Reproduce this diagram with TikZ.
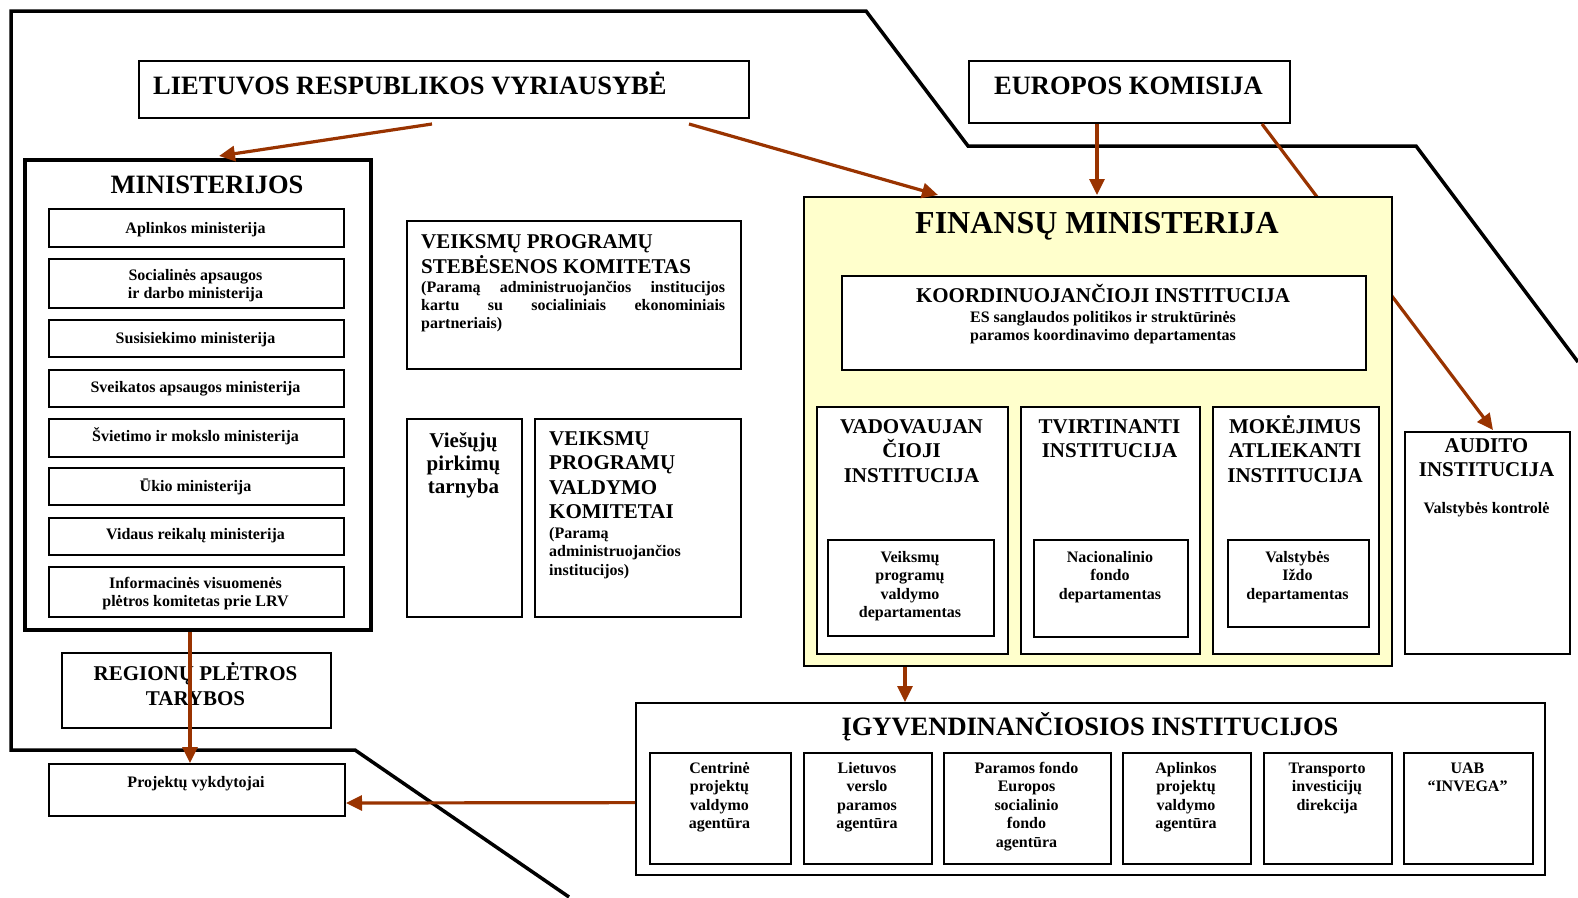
\documentclass[tikz,border=0pt]{standalone}
\usepackage{fontspec}
\setmainfont{Liberation Serif}
\usetikzlibrary{arrows.meta,calc}
\definecolor{arrc}{RGB}{153,51,0}
\definecolor{fmy}{RGB}{255,255,204}
\newcommand{\fs}[2]{\fontsize{#1}{#2}\selectfont\bfseries}
\newcommand{\bx}[6]{\pgfmathsetmacro\mybw{#4-#2}\pgfmathsetmacro\mybh{#5-#3}%
  \node[#6, anchor=north west, minimum width=\mybw pt, minimum height=\mybh pt, inner sep=0pt] (#1) at (#2,#3) {};}
\newcommand{\ml}[7]{\foreach \myl [count=\i] in {#7}{%
  \node[anchor=#2, font=#6, inner sep=0pt] (#1\i) at ({#3},{#4+(\i-1)*#5}) {\myl};}}
\begin{document}
\begin{tikzpicture}[x=1pt,y=-1pt,
  box/.style={draw=black, line width=2pt, fill=white},
  arr/.style={draw=arrc, line width=3.2pt, -{Triangle[length=16pt,width=15pt]}}]
\useasboundingbox (0,0) rectangle (1578,897);
\fill[white] (0,0) rectangle (1578,897);
% outer frame
\draw[line width=3.5pt] (569,897) -- (355,750) -- (11,750) -- (11,11) -- (866,11) -- (968,146) -- (1416,146) -- (1578,362);
% top boxes
\bx{lrv}{138}{60}{748}{117}{box}
\bx{ek}{968}{60}{1289}{122}{box}
\bx{aud}{1404}{431}{1569}{653}{box}
\draw[arr] ($(ek.south west)+(294,0)$) -- ($(aud.north west)+(89,-1)$);
% finance ministry
\bx{fm}{803}{196}{1391}{665}{box, fill=fmy, line width=2.3pt}
\bx{koord}{841}{275}{1365}{369}{box}
\bx{vad}{816}{406}{1007}{653}{box}
\bx{vadi}{827}{539}{993}{635}{box}
\bx{tvi}{1020}{406}{1199}{653}{box}
\bx{tvii}{1033}{539}{1187}{636}{box}
\bx{mok}{1212}{406}{1378}{653}{box}
\bx{moki}{1227}{539}{1368}{626}{box}
% ministries
\bx{min}{23}{158}{369}{628}{box, line width=4pt}
\bx{m1}{48}{208}{343}{246}{box}
\bx{m2}{48}{258}{343}{307}{box}
\bx{m3}{48}{319}{343}{356}{box}
\bx{m4}{48}{369}{343}{406}{box}
\bx{m5}{48}{418}{343}{456}{box}
\bx{m6}{48}{467}{343}{504}{box}
\bx{m7}{48}{517}{343}{554}{box}
\bx{m8}{48}{566}{343}{616}{box}
% middle
\bx{vpsk}{406}{220}{740}{368}{box}
\bx{vpt}{406}{418}{521}{616}{box}
\bx{vpvk}{534}{418}{740}{616}{box}
\bx{reg}{61}{652}{330}{727}{box}
\bx{proj}{48}{763}{344}{815}{box}
% implementing institutions
\bx{igy}{635}{702}{1544}{874}{box, line width=1.6pt}
\bx{a1}{649}{752}{790}{863}{box}
\bx{a2}{803}{752}{931}{863}{box}
\bx{a3}{943}{752}{1110}{863}{box}
\bx{a4}{1122}{752}{1250}{863}{box}
\bx{a5}{1263}{752}{1391}{863}{box}
\bx{a6}{1403}{752}{1532}{863}{box}
% texts
\node[anchor=base west, font=\fs{26.5}{30}, inner sep=0pt] (lrvt) at (153,94) {LIETUVOS RESPUBLIKOS VYRIAUSYBĖ};
\node[anchor=base, font=\fs{26.5}{30}, inner sep=0pt] (ekt) at (1128.5,94) {EUROPOS KOMISIJA};
\node[anchor=base, font=\fs{26.5}{30}, inner sep=0pt] (mint) at (207,193) {MINISTERIJOS};
\node[anchor=base, font=\fs{32}{36}, inner sep=0pt] (fmt) at (1097,233) {FINANSŲ MINISTERIJA};
\node[anchor=base, font=\fs{21}{24}, inner sep=0pt] (koordt) at (1103,302) {KOORDINUOJANČIOJI INSTITUCIJA};
\ml{koords}{base}{1103}{322}{18.5}{\fs{16}{18.5}}{ES sanglaudos politikos ir struktūrinės,paramos koordinavimo departamentas}
\ml{vadt}{base}{911.5}{433}{24.5}{\fs{21}{24}}{VADOVAUJAN,ČIOJI,INSTITUCIJA}
\ml{tvit}{base}{1109.5}{433}{24.5}{\fs{21}{24}}{TVIRTINANTI,INSTITUCIJA}
\ml{mokt}{base}{1295}{433}{24.5}{\fs{21}{24}}{MOKĖJIMUS,ATLIEKANTI,INSTITUCIJA}
\ml{vadit}{base}{910}{562}{18.5}{\fs{16}{18.5}}{Veiksmų,programų,valdymo,departamentas}
\ml{tviit}{base}{1110}{562}{18.5}{\fs{16}{18.5}}{Nacionalinio,fondo,departamentas}
\ml{mokit}{base}{1297.5}{562}{18.5}{\fs{16}{18.5}}{Valstybės,Iždo,departamentas}
\ml{audt}{base}{1486.5}{452}{24}{\fs{21}{24}}{AUDITO,INSTITUCIJA}
\node[anchor=base, font=\fs{16}{18.5}, inner sep=0pt] (auds) at (1486.5,513) {Valstybės kontrolė};
% ministries texts
\node[anchor=base, font=\fs{16}{18.5}, inner sep=0pt] (m1t) at (195.5,233) {Aplinkos ministerija};
\ml{m2t}{base}{195.5}{280}{18.5}{\fs{16}{18.5}}{Socialinės apsaugos,ir darbo ministerija}
\node[anchor=base, font=\fs{16}{18.5}, inner sep=0pt] (m3t) at (195.5,343) {Susisiekimo ministerija};
\node[anchor=base, font=\fs{16}{18.5}, inner sep=0pt] (m4t) at (195.5,392) {Sveikatos apsaugos ministerija};
\node[anchor=base, font=\fs{16}{18.5}, inner sep=0pt] (m5t) at (195.5,441) {Švietimo ir mokslo ministerija};
\node[anchor=base, font=\fs{16}{18.5}, inner sep=0pt] (m6t) at (195.5,491) {Ūkio ministerija};
\node[anchor=base, font=\fs{16}{18.5}, inner sep=0pt] (m7t) at (195.5,539) {Vidaus reikalų ministerija};
\ml{m8t}{base}{195.5}{588}{18.5}{\fs{16}{18.5}}{Informacinės visuomenės,plėtros komitetas prie LRV}
% middle texts
\ml{vpskt}{base west}{421}{248}{25}{\fs{21}{24}}{VEIKSMŲ PROGRAMŲ,STEBĖSENOS KOMITETAS}
\node[anchor=base west, font=\fs{16}{18.5}, inner sep=0pt] (vpsks1) at (421,292) {\makebox[304pt][s]{(Paramą administruojančios institucijos}};
\node[anchor=base west, font=\fs{16}{18.5}, inner sep=0pt] (vpsks2) at (421,310) {\makebox[304pt][s]{kartu su socialiniais ekonominiais}};
\node[anchor=base west, font=\fs{16}{18.5}, inner sep=0pt] (vpsks3) at (421,328) {partneriais)};
\ml{vptt}{base}{463.5}{447}{23}{\fs{21}{24}}{Viešųjų,pirkimų,tarnyba}
\ml{vpvkt}{base west}{549}{445}{24.5}{\fs{21}{24}}{VEIKSMŲ,PROGRAMŲ,VALDYMO,KOMITETAI}
\ml{vpvks}{base west}{549}{538}{18.5}{\fs{16}{18.5}}{{(Paramą},administruojančios,{institucijos)}}
\ml{regt}{base}{195.5}{680}{25}{\fs{21}{24}}{REGIONŲ PLĖTROS,TARYBOS}
\node[anchor=base, font=\fs{16}{18.5}, inner sep=0pt] (projt) at (196,787) {Projektų vykdytojai};
% implementing texts
\node[anchor=base, font=\fs{26.5}{30}, inner sep=0pt] (igyt) at (1090,735) {ĮGYVENDINANČIOSIOS INSTITUCIJOS};
\ml{a1t}{base}{719.5}{773}{18.5}{\fs{16}{18.5}}{Centrinė,projektų,valdymo,agentūra}
\ml{a2t}{base}{867}{773}{18.5}{\fs{16}{18.5}}{Lietuvos,verslo,paramos,agentūra}
\ml{a3t}{base}{1026.5}{773}{18.5}{\fs{16}{18.5}}{Paramos fondo,Europos,socialinio,fondo,agentūra}
\ml{a4t}{base}{1186}{773}{18.5}{\fs{16}{18.5}}{Aplinkos,projektų,valdymo,agentūra}
\ml{a5t}{base}{1327}{773}{18.5}{\fs{16}{18.5}}{Transporto,investicijų,direkcija}
\ml{a6t}{base}{1467.5}{773}{18.5}{\fs{16}{18.5}}{UAB,“INVEGA”}
% arrows
\draw[arr] ($(lrv.south west)+(294,5)$) -- ($(min.north west)+(196,-2)$);
\draw[arr] ($(lrv.south west)+(551,5)$) -- ($(fm.north west)+(135,-1)$);
\draw[arr] ($(ek.south west)+(129,0)$) -- ($(fm.north west)+(294,-1)$);
\draw[arr] ($(min.south west)+(167,0)$) -- ($(proj.north west)+(142,0)$);
\draw[arr] ($(igy.south west)+(0,-73)$) -- ($(proj.south east)+(0,-14)$);
\draw[arr] ($(fm.south west)+(102,0)$) -- ($(igy.north west)+(270,0)$);
\end{tikzpicture}
\end{document}
